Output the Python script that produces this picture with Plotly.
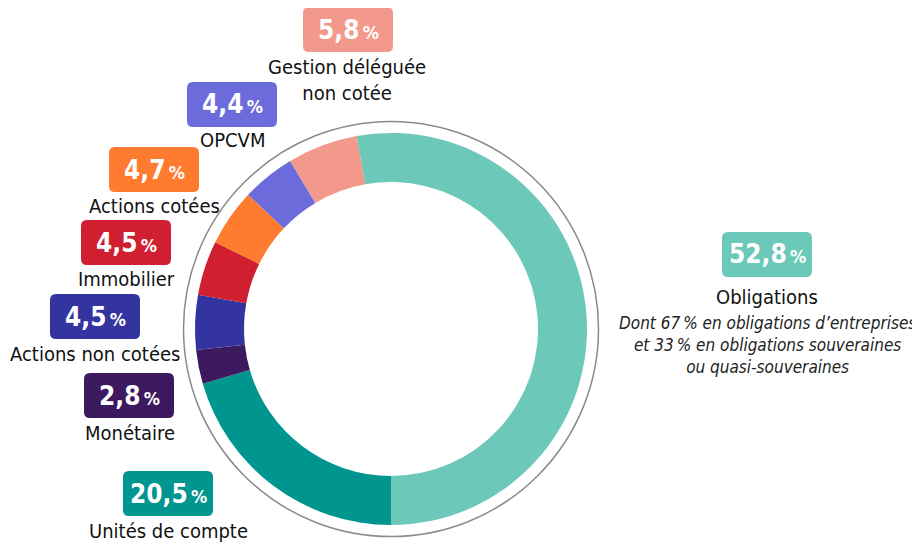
import plotly.graph_objects as go

# ---- data ----
categories = ["Unités de compte", "Monétaire", "Actions non cotées", "Immobilier",
              "Actions cotées", "OPCVM", "Gestion déléguée non cotée", "Obligations"]
values = [20.5, 2.8, 4.5, 4.5, 4.7, 4.4, 5.8, 52.8]
label_text = ["Unités de compte", "Monétaire", "Actions non cotées", "Immobilier",
              "Actions cotées", "OPCVM", "Gestion déléguée<br>non cotée", "Obligations"]
obligations_note = ("Dont 67\u2009% en obligations d’entreprises<br>"
                    "et 33\u2009% en obligations souveraines<br>ou quasi-souveraines")

# ---- styles / layout ----
colors = ["#00958f", "#3d1a5f", "#3434a0", "#cf1f30",
          "#ff7b30", "#6b6bdc", "#f2998c", "#6cc8b9"]
OFF = 8  # page body margin
W, H = 920 - OFF, 544 - OFF
FONT = "Liberation Sans Narrow, DejaVu Sans Condensed, Arial Narrow, sans-serif"
# pixel geometry of the donut (window coordinates)
CX, CY, R, HOLE = 391, 329, 196, 0.75
RING_R = 207.5
# box (x0, y0) top-left in px, label center (x, y) in px
box_pos = [(123, 471), (84, 373), (50, 294), (81, 220), (109, 147), (187, 82), (303, 7), (722, 232)]
label_pos = [(168, 531), (130, 433), (95, 354), (126, 279), (154, 206), (232, 140), (347, 80), (767, 297)]
BW, BH, BR = 90, 45, 6


def px(x):
    return (x - OFF) / W


def py(y):
    return 1 - (y - OFF) / H


def rounded_rect(x0, y0, x1, y1, r):
    pts = [
        f"M {px(x0 + r)},{py(y0)}",
        f"L {px(x1 - r)},{py(y0)}",
        f"Q {px(x1)},{py(y0)} {px(x1)},{py(y0 + r)}",
        f"L {px(x1)},{py(y1 - r)}",
        f"Q {px(x1)},{py(y1)} {px(x1 - r)},{py(y1)}",
        f"L {px(x0 + r)},{py(y1)}",
        f"Q {px(x0)},{py(y1)} {px(x0)},{py(y1 - r)}",
        f"L {px(x0)},{py(y0 + r)}",
        f"Q {px(x0)},{py(y0)} {px(x0 + r)},{py(y0)}",
        "Z",
    ]
    return " ".join(pts)


fig = go.Figure(go.Pie(
    labels=categories, values=values, sort=False, direction="clockwise", rotation=180,
    hole=HOLE, marker=dict(colors=colors, line=dict(width=0)),
    textinfo="none", hoverinfo="label+percent", showlegend=False,
    domain=dict(x=[px(CX - R), px(CX + R)], y=[py(CY + R), py(CY - R)]),
))

shapes = [dict(type="circle", xref="paper", yref="paper",
               x0=px(CX - RING_R), x1=px(CX + RING_R), y0=py(CY + RING_R), y1=py(CY - RING_R),
               line=dict(color="#8a8a8a", width=1.5), fillcolor="rgba(0,0,0,0)", layer="below")]
annotations = []
for i, v in enumerate(values):
    bx, by = box_pos[i]
    shapes.append(dict(type="path", xref="paper", yref="paper",
                       path=rounded_rect(bx, by, bx + BW, by + BH, BR),
                       fillcolor=colors[i], line=dict(width=0)))
    num = f"{v:.1f}".replace(".", ",")
    annotations.append(dict(
        xref="paper", yref="paper", x=px(bx + BW / 2), y=py(by + BH / 2),
        xanchor="center", yanchor="middle", showarrow=False,
        text=f"<b>{num}</b><b><span style='font-size:18px'>\u2009%</span></b>",
        font=dict(family=FONT, size=26, color="white")))
    lx, ly = label_pos[i]
    annotations.append(dict(
        xref="paper", yref="paper", x=px(lx), y=py(ly),
        xanchor="center", yanchor="middle", showarrow=False,
        text=label_text[i], font=dict(family=FONT, size=20, color="#111111")))

annotations.append(dict(
    xref="paper", yref="paper", x=px(767), y=py(345),
    xanchor="center", yanchor="middle", showarrow=False,
    text=f"<i>{obligations_note}</i>",
    font=dict(family=FONT, size=17, color="#222222")))

fig.update_layout(
    width=W, height=H, margin=dict(l=0, r=0, t=0, b=0),
    paper_bgcolor="white", plot_bgcolor="white",
    shapes=shapes, annotations=annotations,
)

fig.write_html("out.html")
